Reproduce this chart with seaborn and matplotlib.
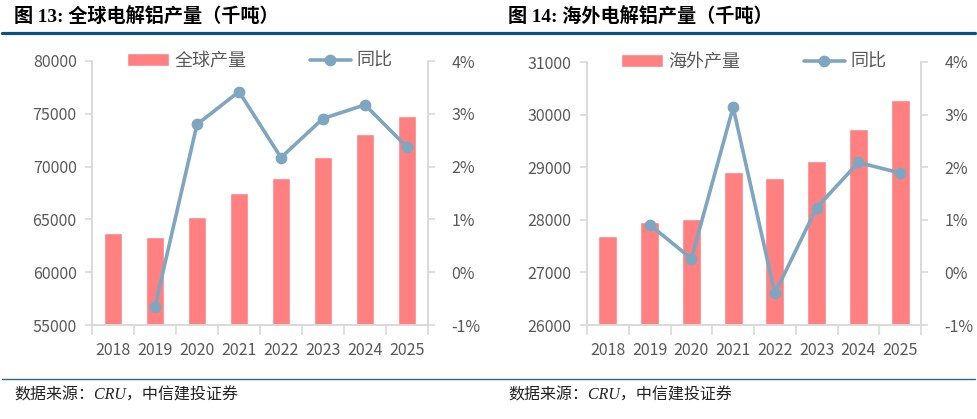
import matplotlib
matplotlib.use('Agg')
import matplotlib.pyplot as plt
import seaborn as sns
from matplotlib.lines import Line2D
from matplotlib.ticker import FuncFormatter, MultipleLocator

# data
years = ['2018', '2019', '2020', '2021', '2022', '2023', '2024', '2025']
global_output = [63750, 63330, 65220, 67480, 68900, 70900, 73130, 74830]
global_yoy = [-0.65, 2.80, 3.42, 2.17, 2.91, 3.17, 2.37]  # 2019-2025, %
overseas_output = [27700, 27950, 28010, 28900, 28790, 29120, 29720, 30270]
overseas_yoy = [0.91, 0.26, 3.14, -0.40, 1.23, 2.09, 1.89]  # 2019-2025, %

bar_color = '#FF8080'
line_color = '#7FA6C1'
grey = '#D9D9D9'
text_grey = '#595959'
navy = '#0B5183'

sns.set_style('white')
plt.rcParams['font.family'] = ['Noto Sans CJK SC', 'DejaVu Sans']

fig = plt.figure(figsize=(9.77, 4.19), dpi=100)


def panel(rect, values, yoy, ylim, ystep, bar_label):
    ax = fig.add_axes(rect)
    sns.barplot(x=years, y=values, order=years, color=bar_color, width=0.45,
                saturation=1, ax=ax, label=bar_label)
    ax2 = ax.twinx()
    sns.pointplot(x=years[1:], y=yoy, order=years, color=line_color, ax=ax2,
                  markers='o', markersize=6.5, linewidth=2.6, label='同比')
    for a in (ax, ax2):
        a.set_xlim(-0.5, len(years) - 0.5)
        a.set_xlabel('')
        a.set_ylabel('')
        for side in ('left', 'right', 'bottom'):
            a.spines[side].set_visible(True)
            a.spines[side].set_color(grey)
            a.spines[side].set_linewidth(1.2)
        a.spines['top'].set_visible(False)
    ax.set_ylim(*ylim)
    ax.yaxis.set_major_locator(MultipleLocator(ystep))
    ax2.set_ylim(-1, 4)
    ax2.yaxis.set_major_locator(MultipleLocator(1))
    ax2.yaxis.set_major_formatter(FuncFormatter(lambda v, p: '%d%%' % round(v)))

    ax.set_xticks(range(len(years)))
    ax.set_xticklabels(years)
    ax.set_xticks([i - 0.5 for i in range(len(years) + 1)], minor=True)
    ax.tick_params(axis='x', which='major', length=0, pad=12,
                   labelsize=11.5, labelcolor=text_grey)
    ax.tick_params(axis='x', which='minor', length=7, width=1.2, color=grey,
                   direction='out', bottom=True)
    ax.tick_params(axis='y', length=5, width=1.2, color=grey, left=True,
                   direction='out', labelsize=11.5, labelcolor=text_grey, pad=6)
    ax2.tick_params(axis='y', length=5, width=1.2, color=grey, right=True,
                    direction='out', labelsize=11.5, labelcolor=text_grey, pad=12)
    ax2.tick_params(axis='x', bottom=False, labelbottom=False)

    h1, l1 = ax.get_legend_handles_labels()
    h2, l2 = ax2.get_legend_handles_labels()
    if ax.get_legend():
        ax.get_legend().remove()
    ax2.legend(h1 + h2, l1 + l2, loc='center', bbox_to_anchor=(0.5, 1.0),
               ncol=2, frameon=False, fontsize=13, handlelength=2.3,
               handletextpad=0.3, columnspacing=3.5,
               labelcolor=text_grey)
    return ax, ax2


panel([92 / 977, 1 - 325 / 419, 336 / 977, 264 / 419],
      global_output, global_yoy, (55000, 80000), 5000, '全球产量')
panel([587 / 977, 1 - 325 / 419, 334 / 977, 263 / 419],
      overseas_output, overseas_yoy, (26000, 31000), 1000, '海外产量')

# titles, rules and source notes
title_family = ['Liberation Serif', 'Noto Sans CJK SC']
fig.text(14 / 977, 1 - 17 / 419, '图 13: 全球电解铝产量（千吨）', fontsize=13.8,
         fontweight='bold', family=title_family, va='center', color='black')
fig.text(508 / 977, 1 - 17 / 419, '图 14: 海外电解铝产量（千吨）', fontsize=13.8,
         fontweight='bold', family=title_family, va='center', color='black')
fig.add_artist(Line2D([2 / 977, 975 / 977], [1 - 33.5 / 419] * 2,
                      transform=fig.transFigure, color=navy, lw=2.3))
fig.add_artist(Line2D([2 / 977, 975 / 977], [1 - 379 / 419] * 2,
                      transform=fig.transFigure, color='#2D6A96', lw=1.0))
note_family = ['Liberation Serif', 'Noto Sans CJK SC']
fig.text(14 / 977, 1 - 396 / 419, '数据来源：CRU，中信建投证券', fontsize=11.5,
         style='italic', family=note_family, va='center', color='#222222')
fig.text(508 / 977, 1 - 396 / 419, '数据来源：CRU，中信建投证券', fontsize=11.5,
         style='italic', family=note_family, va='center', color='#222222')

fig.savefig('out.png', dpi=100)
